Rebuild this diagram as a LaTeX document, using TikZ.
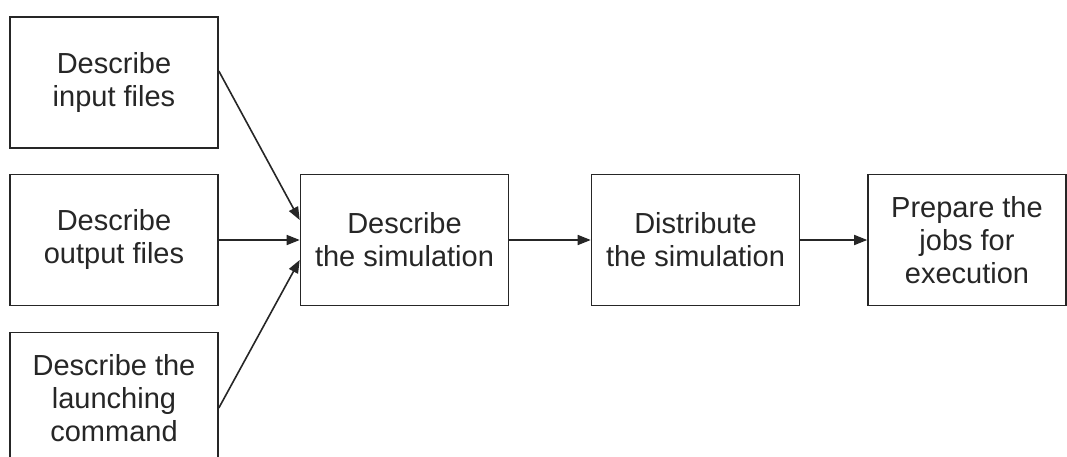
\documentclass[tikz,border=0pt]{standalone}
\usepackage{fontspec}
\setmainfont{Liberation Sans}
\usetikzlibrary{arrows.meta}
\begin{document}
\begin{tikzpicture}[x=1pt,y=-1pt,
  box/.style={draw=black!85,line width=1.6pt,minimum width=208pt,minimum height=131pt,
    inner sep=0pt,align=center,text=black!85,font=\fontsize{29}{33}\selectfont},
  arr/.style={draw=black!85,line width=1.6pt,-{Triangle[length=13pt,width=10pt]}}]
\useasboundingbox (0,0) rectangle (1067,457);
\clip (0,0) rectangle (1067,457);
\fill[white] (0,0) rectangle (1067,457);
\node[box] (in) at (114,82.5) {Describe\\input files};
\node[box] (out) at (114,240) {Describe\\output files};
\node[box] (cmd) at (114,398) {Describe the\\launching\\command};
\node[box] (sim) at (404.5,240) {Describe\\the simulation};
\node[box] (dist) at (695.5,240) {Distribute\\the simulation};
\node[box,minimum width=198pt] (prep) at (967,240) {Prepare the\\jobs for\\execution};
\draw[arr] ([yshift=11.5pt]in.east) -- ([yshift=20pt]sim.west);
\draw[arr] (out.east) -- (sim.west);
\draw[arr] ([yshift=-10pt]cmd.east) -- ([yshift=-20pt]sim.west);
\draw[arr] (sim.east) -- (dist.west);
\draw[arr] (dist.east) -- (prep.west);
\end{tikzpicture}
\end{document}
